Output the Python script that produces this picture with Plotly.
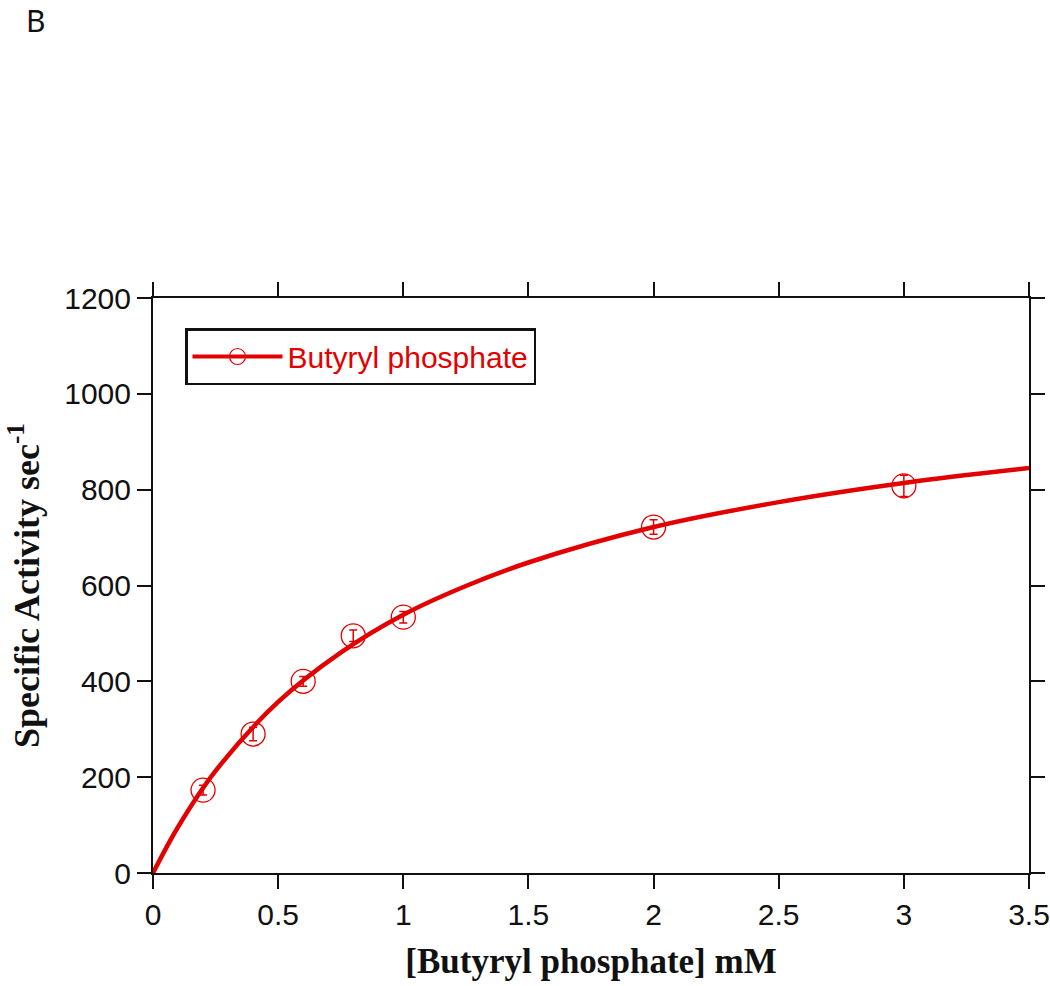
import plotly.graph_objects as go

# Measured data points
conc_mM = [0.2, 0.4, 0.6, 0.8, 1.0, 2.0, 3.0]
activity = [173, 290, 400, 495, 534, 722, 808]
activity_err = [10, 14, 10, 12, 12, 15, 22]

# Fitted curve
fit_x = [0, 0.1, 0.25, 0.5, 0.75, 1.0, 1.25, 1.5, 2.0, 2.5, 3.0, 3.5]
fit_y = [0, 96, 213, 357, 460, 539, 599, 648, 722, 774, 814, 845]

x_ticks = [0, 0.5, 1, 1.5, 2, 2.5, 3, 3.5]
y_ticks = [0, 200, 400, 600, 800, 1000, 1200]

RED = "#e30000"
INK = "#111111"

W, H = 1050, 986
ML, MR, MT, MB = 153, 21, 298, 113
PW, PH = W - ML - MR, H - MT - MB

fig = go.Figure()
fig.add_trace(go.Scatter(x=fit_x, y=fit_y, mode="lines", line=dict(color=RED, width=4.5, shape="spline"),
                         showlegend=False, hoverinfo="skip"))
fig.add_trace(go.Scatter(x=conc_mM, y=activity, mode="markers",
                         marker=dict(symbol="circle-open", size=24, color=RED, line=dict(width=1.3, color=RED)),
                         error_y=dict(type="data", array=activity_err, color=RED, thickness=1.5, width=4),
                         showlegend=False))
fig.add_trace(go.Scatter(x=[None], y=[None], mode="lines+markers", name="Butyryl phosphate",
                         line=dict(color=RED, width=4),
                         marker=dict(symbol="circle-open", size=24, color=RED, line=dict(width=1.2, color=RED))))

axis_common = dict(showgrid=False, zeroline=False, showline=True, linecolor=INK, linewidth=2,
                   ticks="outside", ticklen=14, tickwidth=1.5, tickcolor=INK, mirror="ticks",
                   automargin=False, ticklabeloverflow="allow",
                   tickfont=dict(family="Liberation Sans, Arial", size=30, color=INK))

title_font = dict(family="Liberation Serif, Times New Roman", color=INK)

fig.update_layout(
    width=W, height=H,
    paper_bgcolor="white", plot_bgcolor="white",
    margin=dict(l=ML, r=MR, t=MT, b=MB, autoexpand=False),
    xaxis=dict(range=[0, 3.5], tickvals=x_ticks, ticktext=[f"{v:g}" for v in x_ticks],
               title=dict(text="<b>[Butyryl phosphate] mM</b>", standoff=18, font=dict(size=35, **title_font)),
               **axis_common),
    yaxis=dict(range=[0, 1200], tickvals=y_ticks, ticktext=[str(v) for v in y_ticks],
               title=dict(text="<b>Specific Activity sec<sup>-1</sup></b>", standoff=14,
                          font=dict(size=36, **title_font)),
               **axis_common),
    legend=dict(x=(185 - ML) / PW, y=1 - (328 - MT) / PH, xanchor="left", yanchor="top",
                bordercolor=INK, borderwidth=2.5,
                bgcolor="white", font=dict(family="Liberation Sans, Arial", size=30, color=RED),
                itemwidth=90, itemsizing="trace"),
    annotations=[dict(text="B", x=(36 - ML) / PW, y=1 + (MT - 20) / PH, xref="paper", yref="paper",
                      xanchor="center", yanchor="middle", showarrow=False,
                      font=dict(family="Noto Sans, Liberation Sans", size=30, color=INK))],
)

fig.write_html("out.html", config={"displayModeBar": False},
               post_script="document.body.style.margin='0';document.body.style.overflow='hidden';")
